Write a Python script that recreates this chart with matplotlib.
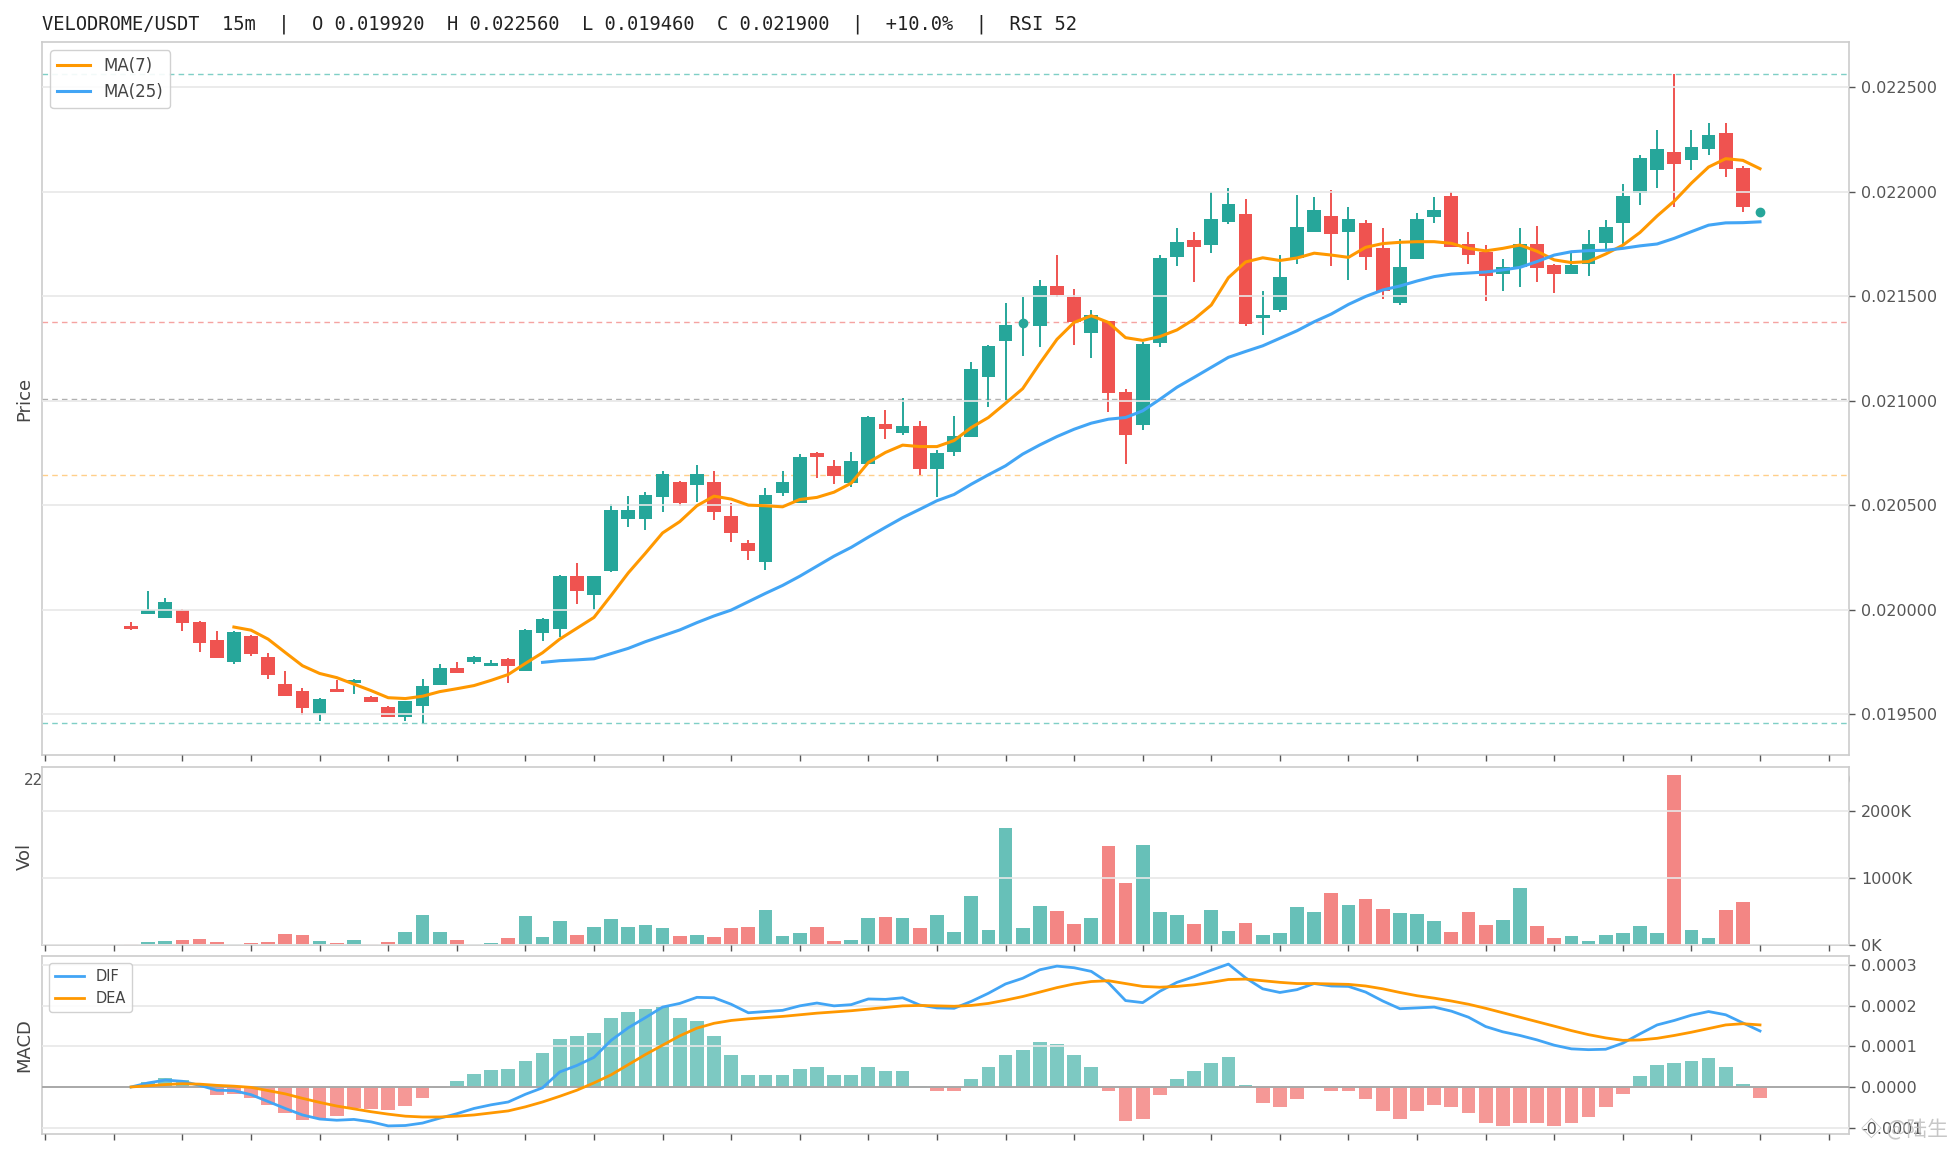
import matplotlib
matplotlib.use("Agg")
import matplotlib.pyplot as plt
import numpy as np
from matplotlib.ticker import MultipleLocator, FuncFormatter

# ---- candle data, 15m bars ----
opens = [0.019920, 0.019979, 0.019960, 0.019997, 0.019940, 0.019854, 0.019751, 0.019875, 0.019773, 0.019644,
         0.019611, 0.019502, 0.019621, 0.019651, 0.019583, 0.019535, 0.019489, 0.019541, 0.019641, 0.019721,
         0.019751, 0.019732, 0.019763, 0.019708, 0.019889, 0.019906, 0.020163, 0.020070, 0.020187, 0.020435,
         0.020435, 0.020537, 0.020611, 0.020598, 0.020611, 0.020449, 0.020318, 0.020226, 0.020556, 0.020510,
         0.020750, 0.020688, 0.020608, 0.020699, 0.020889, 0.020847, 0.020879, 0.020674, 0.020755, 0.020828,
         0.021113, 0.021287, 0.021371, 0.021358, 0.021548, 0.021497, 0.021325, 0.021381, 0.021041, 0.020884,
         0.021275, 0.021686, 0.021768, 0.021744, 0.021855, 0.021892, 0.021396, 0.021433, 0.021680, 0.021807,
         0.021883, 0.021807, 0.021850, 0.021730, 0.021468, 0.021679, 0.021880, 0.021979, 0.021749, 0.021711,
         0.021607, 0.021641, 0.021749, 0.021649, 0.021607, 0.021655, 0.021754, 0.021847, 0.021992, 0.022101,
         0.022190, 0.022149, 0.022201, 0.022281, 0.022113, 0.021900]
highs = [0.019943, 0.020087, 0.020054, 0.020005, 0.019944, 0.019897, 0.019897, 0.019879, 0.019795, 0.019706,
         0.019625, 0.019578, 0.019665, 0.019670, 0.019587, 0.019540, 0.019563, 0.019668, 0.019738, 0.019748,
         0.019778, 0.019759, 0.019767, 0.019906, 0.019959, 0.020168, 0.020224, 0.020163, 0.020505, 0.020544,
         0.020563, 0.020663, 0.020616, 0.020692, 0.020663, 0.020510, 0.020334, 0.020581, 0.020664, 0.020745,
         0.020756, 0.020717, 0.020755, 0.020927, 0.020955, 0.021013, 0.020901, 0.020764, 0.020927, 0.021185,
         0.021266, 0.021467, 0.021495, 0.021576, 0.021696, 0.021533, 0.021433, 0.021381, 0.021056, 0.021282,
         0.021696, 0.021825, 0.021806, 0.021997, 0.022016, 0.021963, 0.021524, 0.021694, 0.021983, 0.021973,
         0.022008, 0.021927, 0.021864, 0.021826, 0.021773, 0.021898, 0.021974, 0.021998, 0.021807, 0.021744,
         0.021677, 0.021826, 0.021835, 0.021653, 0.021706, 0.021816, 0.021864, 0.022037, 0.022176, 0.022296,
         0.022560, 0.022296, 0.022329, 0.022329, 0.022120, 0.021900]
lows = [0.019905, 0.019979, 0.019960, 0.019898, 0.019798, 0.019768, 0.019741, 0.019778, 0.019670, 0.019589,
        0.019497, 0.019470, 0.019608, 0.019597, 0.019560, 0.019489, 0.019470, 0.019460, 0.019641, 0.019698,
        0.019740, 0.019732, 0.019651, 0.019708, 0.019851, 0.019870, 0.020027, 0.019998, 0.020180, 0.020397,
        0.020379, 0.020465, 0.020498, 0.020516, 0.020427, 0.020326, 0.020236, 0.020191, 0.020546, 0.020510,
        0.020629, 0.020600, 0.020589, 0.020699, 0.020818, 0.020836, 0.020646, 0.020537, 0.020737, 0.020828,
        0.020967, 0.020998, 0.021215, 0.021258, 0.021497, 0.021268, 0.021205, 0.020947, 0.020699, 0.020857,
        0.021258, 0.021645, 0.021568, 0.021705, 0.021844, 0.021358, 0.021314, 0.021424, 0.021654, 0.021807,
        0.021645, 0.021578, 0.021626, 0.021487, 0.021458, 0.021679, 0.021847, 0.021735, 0.021653, 0.021478,
        0.021526, 0.021545, 0.021569, 0.021516, 0.021607, 0.021597, 0.021725, 0.021749, 0.021936, 0.022019,
        0.021928, 0.022101, 0.022176, 0.022067, 0.021900, 0.021900]
closes = [0.019910, 0.019997, 0.020038, 0.019937, 0.019841, 0.019768, 0.019892, 0.019787, 0.019689, 0.019589,
          0.019532, 0.019573, 0.019608, 0.019662, 0.019560, 0.019489, 0.019563, 0.019635, 0.019721, 0.019698,
          0.019773, 0.019744, 0.019732, 0.019902, 0.019954, 0.020163, 0.020087, 0.020163, 0.020478, 0.020478,
          0.020549, 0.020649, 0.020508, 0.020649, 0.020465, 0.020365, 0.020279, 0.020548, 0.020611, 0.020731,
          0.020728, 0.020637, 0.020712, 0.020922, 0.020866, 0.020879, 0.020674, 0.020750, 0.020831, 0.021151,
          0.021261, 0.021361, 0.021371, 0.021548, 0.021505, 0.021376, 0.021409, 0.021037, 0.020836, 0.021271,
          0.021682, 0.021758, 0.021734, 0.021868, 0.021939, 0.021368, 0.021411, 0.021591, 0.021830, 0.021911,
          0.021799, 0.021869, 0.021688, 0.021526, 0.021639, 0.021869, 0.021912, 0.021735, 0.021696, 0.021597,
          0.021639, 0.021749, 0.021636, 0.021607, 0.021649, 0.021749, 0.021831, 0.021979, 0.022161, 0.022204,
          0.022130, 0.022214, 0.022272, 0.022110, 0.021928, 0.021900]

# volume in thousands
volume_k = [15, 45, 60, 75, 90, 45, 18, 30, 45, 164, 149, 60, 30, 75, 20, 45, 194, 448, 194, 75,
            20, 30, 104, 433, 119, 358, 149, 269, 388, 269, 299, 254, 134, 149, 119, 254, 269, 522, 134, 179,
            269, 60, 75, 403, 418, 403, 254, 448, 194, 731, 224, 1746, 254, 582, 507, 313, 403, 1478, 925, 1493,
            493, 448, 313, 522, 209, 328, 149, 179, 567, 493, 776, 597, 687, 537, 478, 463, 358, 194, 493, 299,
            373, 851, 284, 104, 134, 60, 149, 179, 284, 179, 2537, 224, 104, 522, 642, 15]

nan = float("nan")
ma7 = [nan] * 6 + [
    0.019917, 0.019902, 0.019859, 0.019795, 0.019732, 0.019695, 0.019675, 0.019644, 0.019613, 0.019579,
    0.019575, 0.019586, 0.019608, 0.019622, 0.019637, 0.019662, 0.019690, 0.019743, 0.019794, 0.019859,
    0.019911, 0.019963, 0.020068, 0.020176, 0.020270, 0.020367, 0.020421, 0.020497, 0.020543, 0.020529,
    0.020500, 0.020497, 0.020492, 0.020527, 0.020537, 0.020562, 0.020605, 0.020704, 0.020752, 0.020787,
    0.020780, 0.020780, 0.020809, 0.020871, 0.020919, 0.020987, 0.021057, 0.021178, 0.021293, 0.021374,
    0.021406, 0.021374, 0.021301, 0.021288, 0.021306, 0.021338, 0.021389, 0.021457, 0.021588, 0.021663,
    0.021683, 0.021670, 0.021682, 0.021705, 0.021696, 0.021685, 0.021733, 0.021751, 0.021757, 0.021760,
    0.021760, 0.021752, 0.021728, 0.021716, 0.021728, 0.021744, 0.021714, 0.021673, 0.021660, 0.021665,
    0.021701, 0.021743, 0.021804, 0.021883, 0.021954, 0.022040, 0.022117, 0.022157, 0.022149, 0.022109]
ma25 = [nan] * 24 + [
    0.019748, 0.019756, 0.019760, 0.019765, 0.019790, 0.019815, 0.019847, 0.019875, 0.019903, 0.019938,
    0.019970, 0.019998, 0.020038, 0.020078, 0.020116, 0.020160, 0.020208, 0.020256, 0.020298, 0.020347,
    0.020394, 0.020440, 0.020480, 0.020521, 0.020551, 0.020600, 0.020645, 0.020688, 0.020744, 0.020788,
    0.020828, 0.020863, 0.020892, 0.020911, 0.020919, 0.020951, 0.021006, 0.021064, 0.021111, 0.021159,
    0.021207, 0.021235, 0.021262, 0.021298, 0.021334, 0.021377, 0.021414, 0.021460, 0.021498, 0.021529,
    0.021548, 0.021572, 0.021593, 0.021605, 0.021610, 0.021615, 0.021625, 0.021637, 0.021665, 0.021696,
    0.021712, 0.021717, 0.021719, 0.021728, 0.021740, 0.021749, 0.021776, 0.021808, 0.021839, 0.021850,
    0.021851, 0.021855]

# MACD values in units of 1e-4
dif_e4 = [0.0, 0.10, 0.17, 0.14, 0.04, -0.08, -0.09, -0.19, -0.36, -0.53,
          -0.69, -0.79, -0.82, -0.80, -0.86, -0.96, -0.95, -0.89, -0.77, -0.66,
          -0.53, -0.44, -0.37, -0.18, -0.02, 0.37, 0.53, 0.73, 1.15, 1.46,
          1.71, 1.97, 2.06, 2.21, 2.20, 2.04, 1.83, 1.86, 1.89, 2.00,
          2.07, 2.00, 2.03, 2.17, 2.16, 2.20, 2.02, 1.95, 1.94, 2.11,
          2.31, 2.54, 2.68, 2.89, 2.98, 2.94, 2.85, 2.57, 2.13, 2.08,
          2.36, 2.58, 2.72, 2.88, 3.03, 2.69, 2.42, 2.33, 2.40, 2.55,
          2.49, 2.48, 2.34, 2.12, 1.93, 1.95, 1.97, 1.87, 1.72, 1.49,
          1.36, 1.27, 1.16, 1.03, 0.94, 0.92, 0.93, 1.08, 1.31, 1.53,
          1.64, 1.77, 1.86, 1.78, 1.58, 1.38]
dea_e4 = [0.0, 0.03, 0.06, 0.08, 0.07, 0.04, 0.02, -0.01, -0.09, -0.17,
          -0.28, -0.38, -0.47, -0.54, -0.61, -0.67, -0.72, -0.74, -0.74, -0.72,
          -0.69, -0.64, -0.59, -0.49, -0.37, -0.23, -0.08, 0.10, 0.30, 0.55,
          0.80, 1.03, 1.26, 1.45, 1.57, 1.64, 1.68, 1.71, 1.74, 1.78,
          1.82, 1.85, 1.88, 1.92, 1.96, 2.00, 2.01, 2.00, 1.99, 2.01,
          2.06, 2.14, 2.23, 2.34, 2.45, 2.54, 2.60, 2.62, 2.55, 2.48,
          2.46, 2.48, 2.52, 2.58, 2.65, 2.66, 2.62, 2.58, 2.55, 2.55,
          2.54, 2.53, 2.49, 2.42, 2.33, 2.25, 2.19, 2.12, 2.04, 1.94,
          1.83, 1.72, 1.61, 1.50, 1.39, 1.29, 1.21, 1.15, 1.16, 1.20,
          1.27, 1.35, 1.44, 1.53, 1.56, 1.53]
hist_e4 = [0.0, 0.12, 0.22, 0.17, -0.02, -0.19, -0.17, -0.27, -0.44, -0.64,
           -0.82, -0.80, -0.72, -0.52, -0.55, -0.58, -0.47, -0.27, -0.02, 0.15,
           0.33, 0.43, 0.45, 0.65, 0.85, 1.18, 1.25, 1.33, 1.70, 1.85,
           1.93, 1.98, 1.70, 1.63, 1.25, 0.80, 0.30, 0.30, 0.30, 0.45,
           0.50, 0.30, 0.30, 0.50, 0.40, 0.40, 0.02, -0.10, -0.10, 0.20,
           0.50, 0.80, 0.90, 1.10, 1.05, 0.80, 0.50, -0.10, -0.85, -0.80,
           -0.20, 0.20, 0.40, 0.60, 0.75, 0.05, -0.40, -0.50, -0.30, 0.02,
           -0.10, -0.10, -0.30, -0.60, -0.80, -0.60, -0.45, -0.50, -0.65, -0.90,
           -0.95, -0.90, -0.90, -0.95, -0.90, -0.75, -0.49, -0.17, 0.28, 0.55,
           0.60, 0.65, 0.72, 0.50, 0.08, -0.27]

# fibonacci levels (0, 0.382, 0.5, 0.618, 1)
fib_levels = [0.02256, 0.021376, 0.02101, 0.020644, 0.01946]
fib_colors = ["#7fcfc6", "#f5a3a1", "#b0b0b0", "#ffcf8a", "#7fcfc6"]

title_text = ("VELODROME/USDT  15m  |  O 0.019920  H 0.022560  L 0.019460  "
              "C 0.021900  |  +10.0%  |  RSI 52")

UP = "#26a69a"
DOWN = "#ef5350"
ORANGE = "#ff9800"
BLUE = "#42a5f5"
SPINE = "#cccccc"
GRID = "#e8e8e8"
TXT = "#555555"

o = np.array(opens)
h = np.array(highs)
l = np.array(lows)
c = np.array(closes)
x = np.arange(len(c))
up = c >= o
cols = np.where(up, UP, DOWN)

W, H = 1956, 1156
fig = plt.figure(figsize=(W / 100, H / 100), dpi=100)
fig.patch.set_facecolor("white")

L, R = 42, 1849
def rect(top, bottom):
    return [L / W, 1 - bottom / H, (R - L) / W, (bottom - top) / H]

ax = fig.add_axes(rect(42, 755))
ax_vol = fig.add_axes(rect(767, 945), sharex=ax)
ax_macd = fig.add_axes(rect(956, 1134), sharex=ax)

for a in (ax, ax_vol, ax_macd):
    a.set_facecolor("white")
    for s in a.spines.values():
        s.set_color(SPINE)
        s.set_linewidth(1.2)
    a.set_axisbelow(False)
    a.grid(axis="y", color=GRID, lw=1.2)
    a.grid(axis="x", visible=False)
    a.yaxis.tick_right()
    a.yaxis.set_label_position("left")
    a.tick_params(axis="y", colors=TXT, labelsize=11.5, length=4.5, width=1, pad=4)
    a.tick_params(axis="x", colors=TXT, labelsize=11, length=4, width=1, direction="out")

# ---- price panel ----
ax.vlines(x, l, h, colors=cols, lw=1.4, zorder=2)
ax.bar(x, np.abs(c - o), width=0.8, bottom=np.minimum(o, c), color=cols, lw=0, zorder=2)
doji = o == c
ax.plot(x[doji], c[doji], "o", ms=6, color=UP, zorder=2)
for lvl, fc in zip(fib_levels, fib_colors):
    ax.axhline(lvl, color=fc, lw=1, ls=(0, (4, 3)), zorder=1.5)
ax.plot(x, ma7, color=ORANGE, lw=2.2, label="MA(7)", zorder=3)
ax.plot(x, ma25, color=BLUE, lw=2.2, label="MA(25)", zorder=3)
ax.yaxis.set_major_locator(MultipleLocator(0.0005))
ax.yaxis.set_major_formatter(FuncFormatter(lambda v, p: f"{v:.6f}"))
ax.set_ylabel("Price", fontsize=13, color="#444444", labelpad=6)
ax.xaxis.set_major_locator(MultipleLocator(4, offset=3))
ax.xaxis.set_major_formatter(FuncFormatter(lambda v, p: f"{int((22 + (v + 5) / 4) % 24):02d}:00"))
# the hour labels sit under the volume panel, only their ends peek out
ax.tick_params(axis="x", pad=9)
leg = ax.legend(loc="upper left", fontsize=12, frameon=True, fancybox=True, framealpha=0.9)
leg.get_frame().set_edgecolor(SPINE)
for t in leg.get_texts():
    t.set_color("#444444")

# ---- volume panel ----
ax_vol.bar(x, np.array(volume_k) * 1000, width=0.8, color=cols, alpha=0.7, lw=0, zorder=2)
ax_vol.yaxis.set_major_locator(MultipleLocator(1e6))
ax_vol.yaxis.set_major_formatter(FuncFormatter(lambda v, p: f"{v / 1000:.0f}K"))
ax_vol.set_ylabel("Vol", fontsize=13, color="#444444", labelpad=6)
ax_vol.tick_params(axis="x", labelbottom=False)

# ---- MACD panel ----
hist = np.array(hist_e4) * 1e-4
ax_macd.bar(x, hist, width=0.8, color=np.where(hist >= 0, UP, DOWN), alpha=0.6, lw=0, zorder=2)
ax_macd.axhline(0, color="#9e9e9e", lw=1.2, zorder=2.6)
ax_macd.plot(x, np.array(dif_e4) * 1e-4, color=BLUE, lw=2, label="DIF", zorder=3)
ax_macd.plot(x, np.array(dea_e4) * 1e-4, color=ORANGE, lw=2, label="DEA", zorder=3)
ax_macd.yaxis.set_major_locator(MultipleLocator(0.0001))
ax_macd.yaxis.set_major_formatter(FuncFormatter(lambda v, p: f"{v:.4f}"))
ax_macd.set_ylabel("MACD", fontsize=13, color="#444444", labelpad=6)
ax_macd.tick_params(axis="x", labelbottom=False)
leg2 = ax_macd.legend(loc="upper left", fontsize=10.5, frameon=True, fancybox=True, framealpha=0.9)
leg2.get_frame().set_edgecolor(SPINE)
for t in leg2.get_texts():
    t.set_color("#444444")

# title
fig.text(L / W, 1 - 24 / H, title_text, ha="left", va="center",
         family="DejaVu Sans Mono", fontsize=13.5, color="#222222")

# watermark
fig.text(1948 / W, 1 - 1129 / H, "◇ @陆生", ha="right", va="center", fontsize=15,
         color="#bdbdbd", alpha=0.85, family=["Noto Sans CJK SC", "DejaVu Sans"])

fig.savefig("out.png", dpi=100, facecolor="white")
